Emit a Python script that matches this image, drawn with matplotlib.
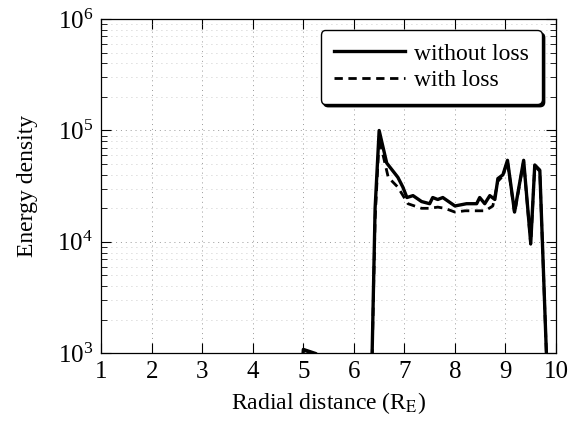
import numpy as np
import matplotlib.pyplot as plt
from matplotlib.ticker import LogLocator, NullFormatter

plt.rcParams['font.family'] = ['Liberation Serif', 'DejaVu Serif']
plt.rcParams['mathtext.fontset'] = 'stix'

# radial distance (R_E) and energy density
r_solid = [1.0, 4.95, 5.0, 5.25, 6.33, 6.42, 6.5, 6.65, 6.87, 6.97, 7.05, 7.17, 7.34, 7.5, 7.56,
           7.66, 7.76, 8.0, 8.23, 8.43, 8.49, 8.59, 8.69, 8.79, 8.85, 8.95, 9.04, 9.18,
           9.36, 9.5, 9.58, 9.68, 9.81, 9.9]
e_solid = [500, 500, 1080, 990, 200, 2.0e4, 1.0e5, 5.1e4, 3.8e4, 3.1e4, 2.5e4, 2.6e4, 2.3e4, 2.2e4, 2.5e4,
           2.4e4, 2.5e4, 2.1e4, 2.2e4, 2.2e4, 2.5e4, 2.2e4, 2.6e4, 2.4e4, 3.7e4, 4.0e4, 5.4e4, 1.85e4,
           5.4e4, 9.7e3, 4.9e4, 4.4e4, 1.0e3, 100]

r_dash = [1.0, 4.95, 5.0, 5.25, 6.33, 6.42, 6.5, 6.68, 6.87, 7.07, 7.2, 7.34, 7.5, 7.66, 7.8,
          8.0, 8.2, 8.43, 8.6, 8.75, 8.85, 8.95, 9.04, 9.18, 9.36, 9.5, 9.58, 9.68, 9.81, 9.9]
e_dash = [500, 500, 1060, 980, 200, 1.6e4, 8.5e4, 3.8e4, 3.1e4, 2.2e4, 2.1e4, 2.0e4, 2.0e4, 2.05e4, 2.0e4,
          1.85e4, 1.9e4, 1.9e4, 1.9e4, 2.1e4, 3.5e4, 3.9e4, 5.3e4, 1.8e4, 5.3e4, 9.5e3, 4.8e4, 4.3e4, 1.0e3, 100]

fig = plt.figure(figsize=(5.72, 4.26), dpi=100)
ax = fig.add_axes([0.177, 0.171, 0.795, 0.784])

ax.semilogy(r_solid, e_solid, color='black', lw=2.4, label='without loss')
ax.semilogy(r_dash, e_dash, color='black', lw=2.0, ls=(0, (3, 2)), label='with loss')

ax.set_xlim(1, 10)
ax.set_ylim(1e3, 1e6)
ax.set_xticks(range(1, 11))
ax.yaxis.set_minor_locator(LogLocator(base=10, subs=np.arange(2, 10)))
ax.yaxis.set_minor_formatter(NullFormatter())

ax.grid(True, which='major', color='#999999', ls=(0, (1, 4)), lw=0.7)
ax.grid(True, which='minor', axis='y', color='#bbbbbb', ls=(0, (1, 5)), lw=0.6)

ax.tick_params(which='both', direction='in', top=True, right=True, labelsize=18)
ax.tick_params(which='major', length=7, width=0.8, pad=6)
ax.tick_params(which='minor', length=4, width=0.6)
for s in ax.spines.values():
    s.set_linewidth(0.9)

ax.set_xlabel('Radial distance (R$_{\\mathrm{E}}$)', fontsize=17, labelpad=5)
ax.set_ylabel('Energy density', fontsize=17, labelpad=14)

leg = ax.legend(loc='upper right', bbox_to_anchor=(0.969, 0.967), fontsize=17, fancybox=True,
                shadow={'color': 'black', 'alpha': 1}, frameon=True, handlelength=3.0,
                borderaxespad=0, handletextpad=0.4, labelspacing=0.2, borderpad=0.55)
leg.get_frame().set_edgecolor('black')
leg.get_frame().set_linewidth(1.0)
leg.get_frame().set_alpha(1)

fig.savefig('out.png', dpi=100)
